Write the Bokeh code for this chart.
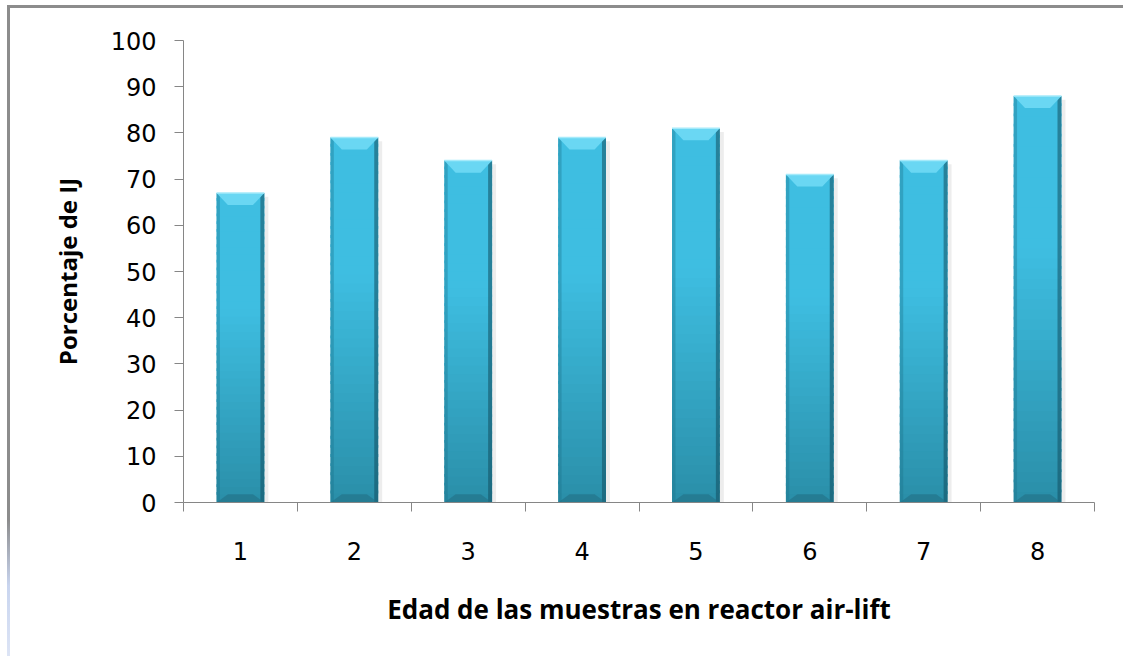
import numpy as np
from bokeh.plotting import figure
from bokeh.layouts import column
from bokeh.models import FixedTicker, Range1d
from bokeh.embed import file_html
from bokeh.resources import INLINE

# Data
categories = ["1", "2", "3", "4", "5", "6", "7", "8"]
values = [67, 79, 74, 79, 81, 71, 74, 88]
y_ticks = [0, 10, 20, 30, 40, 50, 60, 70, 80, 90, 100]
x_title = "Edad de las muestras en reactor air-lift"
y_title = "Porcentaje de IJ"

xs = np.arange(1, len(categories) + 1, dtype=float)
vals = np.array(values, dtype=float)

BAR_W = 0.42
TICK_FONT = "DejaVu Sans"
TITLE_FONT = "Open Sans"

p = figure(width=1123, height=656, output_backend="svg", toolbar_location=None,
           x_range=Range1d(0.5, len(categories) + 0.5), y_range=Range1d(0, 100),
           min_border_left=183, min_border_right=29, min_border_top=40,
           min_border_bottom=154)
p.outline_line_color = None
p.xgrid.visible = False
p.ygrid.visible = False
p.background_fill_color = "white"
p.border_fill_color = None

# soft shadow to the right of each bar
p.quad(left=xs + BAR_W / 2, right=xs + BAR_W / 2 + 0.035, bottom=0, top=vals - 0.8,
       fill_color="#000000", fill_alpha=0.07, line_color=None)

# vertical gradient body, built as stacked slices per bar
def mix(c1, c2, t):
    return "#%02x%02x%02x" % tuple(int(round(a + (b - a) * t)) for a, b in zip(c1, c2))

bottom_rgb = (42, 142, 168)
top_rgb = (62, 190, 225)
N = 40
L, R, B, T, C = [], [], [], [], []
for x, v in zip(xs, vals):
    for i in range(N):
        t = (i + 0.5) / N
        L.append(x - BAR_W / 2)
        R.append(x + BAR_W / 2)
        B.append(v * i / N)
        T.append(min(v, v * (i + 1) / N + 0.6))
        C.append(mix(bottom_rgb, top_rgb, min(1.0, t * 1.6)))
p.quad(left=L, right=R, bottom=B, top=T, fill_color=C, line_color=None)

# darker side edges
p.quad(left=xs - BAR_W / 2, right=xs - BAR_W / 2 + 0.03, bottom=0, top=vals,
       fill_color="#1b6f86", fill_alpha=0.35, line_color=None)
p.quad(left=xs + BAR_W / 2 - 0.035, right=xs + BAR_W / 2, bottom=0, top=vals,
       fill_color="#134f60", fill_alpha=0.55, line_color=None)

# bevelled top and bottom faces
bev_x = 0.1
bev_top = 2.6
bev_bot = 1.8
top_xs, top_ys, bot_xs, bot_ys = [], [], [], []
for x, v in zip(xs, vals):
    l, r = x - BAR_W / 2, x + BAR_W / 2
    top_xs.append([l, r, r - bev_x, l + bev_x])
    top_ys.append([v, v, v - bev_top, v - bev_top])
    bot_xs.append([l, r, r - bev_x, l + bev_x])
    bot_ys.append([0, 0, bev_bot, bev_bot])
p.patches(xs=top_xs, ys=top_ys, fill_color="#6ad7f3", line_color=None)
p.patches(xs=bot_xs, ys=bot_ys, fill_color="#236f86", fill_alpha=0.6, line_color=None)
p.segment(x0=xs - BAR_W / 2, x1=xs + BAR_W / 2, y0=vals, y1=vals,
          line_color="#a5eafa", line_width=1.5)

# axes
p.yaxis.ticker = FixedTicker(ticks=y_ticks, minor_ticks=[])
p.xaxis.ticker = FixedTicker(ticks=list(xs),
                             minor_ticks=list(np.arange(0.5, len(categories) + 1, 1.0)))
p.xaxis.major_label_overrides = {float(x): c for x, c in zip(xs, categories)}
for ax in (p.xaxis[0], p.yaxis[0]):
    ax.axis_line_color = "#868686"
    ax.major_tick_line_color = "#868686"
    ax.minor_tick_line_color = "#868686"
    ax.major_label_text_font = TICK_FONT
    ax.major_label_text_font_size = "24px"
    ax.major_label_text_color = "#000000"
    ax.axis_label_text_font = TITLE_FONT
    ax.axis_label_text_font_style = "bold"
    ax.axis_label_text_color = "#000000"
p.yaxis.axis_label_text_font_size = "24px"
p.xaxis.axis_label_text_font_size = "26px"
p.yaxis.major_tick_in = 0
p.yaxis.major_tick_out = 9
p.yaxis.major_label_standoff = 18
p.yaxis.axis_label = y_title
p.yaxis.axis_label_standoff = 24
p.xaxis.major_tick_in = 0
p.xaxis.major_tick_out = 0
p.xaxis.minor_tick_in = 0
p.xaxis.minor_tick_out = 9
p.xaxis.major_label_standoff = 30
p.xaxis.axis_label = x_title
p.xaxis.axis_label_standoff = 28

# chart-area border: grey edge on the left and top, painted on the layout behind the figure
page = column(p, width=1123, height=656, styles={"background":
              "linear-gradient(to bottom, #8c8c8c 0%, #8c8c8c 78%, #c9d5ef 88%, #dfe6f6 100%) "
              "7px 5px / 3px 660px no-repeat, "
              "linear-gradient(#8c8c8c, #8c8c8c) 7px 5px / 1116px 3px no-repeat, white"})

open("out.html", "w").write(file_html(page, INLINE))
